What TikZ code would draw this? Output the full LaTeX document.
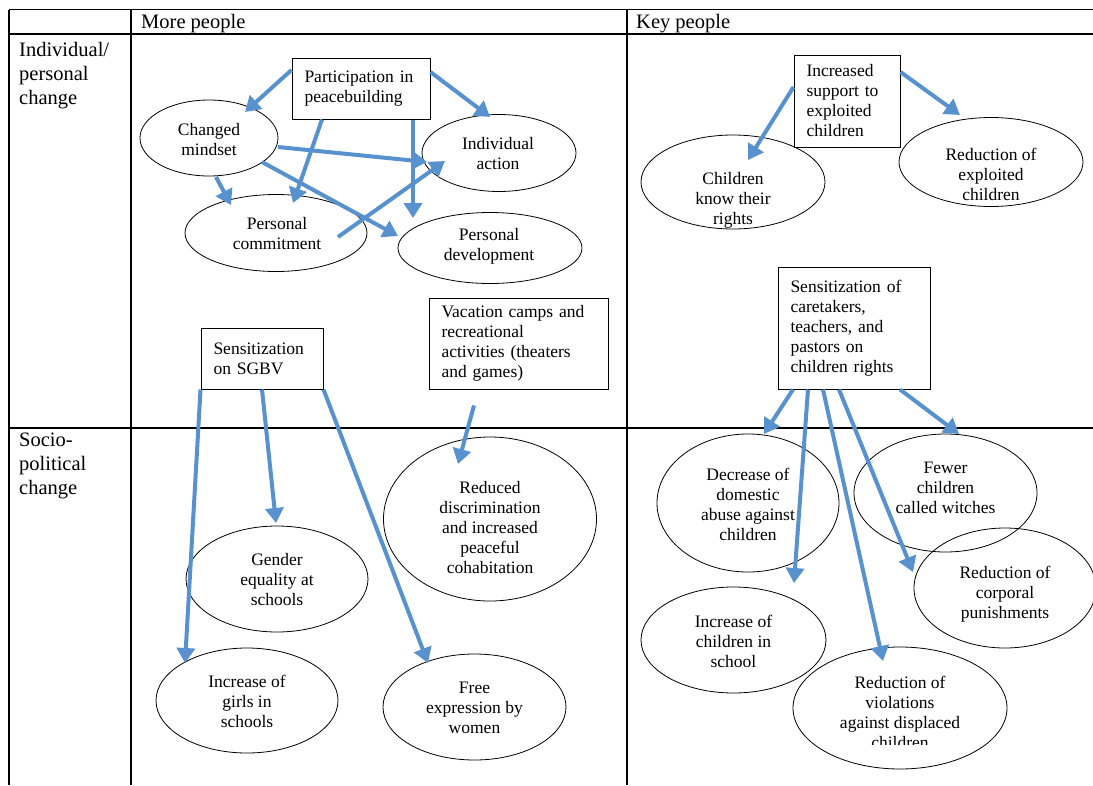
\documentclass[tikz,border=0pt]{standalone}
\usepackage{fontspec}
\setmainfont{Liberation Serif}
\usetikzlibrary{shapes.geometric,arrows.meta}
\definecolor{arrblue}{RGB}{88,146,206}
\hyphenpenalty=10000
\exhyphenpenalty=10000
\begin{document}
\begin{tikzpicture}[x=1pt,y=-1pt,
  grid/.style={line width=1.1pt,black},
  hdr/.style={font=\fontsize{20.5}{24}\selectfont, inner sep=0pt, align=left},
  pbox/.style={draw, line width=1pt, rectangle, inner xsep=12.5pt, inner ysep=0pt, align=left, font=\fontsize{17.5}{20}\selectfont},
  ell/.style={draw, line width=0.8pt, ellipse, inner sep=0pt},
  lbl/.style={align=center, inner sep=0pt, font=\fontsize{17.5}{20}\selectfont},
  arr/.style={draw=arrblue, line width=4pt, -{Triangle[length=15pt,width=18pt]}}
]
\fill[white] (0,0) rectangle (1093,785);
\useasboundingbox (0,0) rectangle (1093,785);

% table grid
\draw[grid] (9,9.5) -- (1093,9.5);
\draw[grid] (9,34) -- (1093,34);
\draw[grid] (9,428) -- (1093,428);
\draw[grid] (9,9.5) -- (9,785);
\draw[grid] (131,9.5) -- (131,785);
\draw[grid] (627,9.5) -- (627,785);

% headers
\node[hdr, anchor=base west] (h1) at (141,28) {More people};
\node[hdr, anchor=base west] (h2) at (636,28) {Key people};
\node[hdr, anchor=north west] (r1) at (19,42) {Individual/\\personal\\change};
\node[hdr, anchor=north west] (r2) at (19,433) {Socio-\\political\\change};

% boxes
\node[pbox, text width=113pt, minimum height=61pt] (pp) at (361,88.5) {Participation in\\peacebuilding};
\node[pbox, text width=81pt, minimum height=92pt] (is) at (847,101) {Increased\\support to\\exploited\\children};
\node[pbox, text width=97pt, minimum height=61pt] (sg) at (262,358.5) {Sensitization\\on SGBV};
\node[pbox, text width=154pt, minimum height=91pt] (vc) at (518.5,343.5) {Vacation camps and\\recreational\\activities (theaters\\and games)};
\node[pbox, text width=127pt, minimum height=122pt] (ct) at (854,328) {Sensitization of\\caretakers,\\teachers, and\\pastors on\\children rights};

% ellipses
\node[ell, minimum width=138pt, minimum height=76pt] (cm) at (209,138) {};
\node[lbl] (cmt) at (209,140) {Changed\\mindset};
\node[ell, minimum width=154pt, minimum height=77pt] (ia) at (499,153) {};
\node[lbl] (iat) at (498,154) {Individual\\action};
\node[ell, minimum width=182pt, minimum height=77pt] (pc) at (276,233) {};
\node[lbl] (pct) at (277,234) {Personal\\commitment};
\node[ell, minimum width=184pt, minimum height=71pt] (pd) at (490,248) {};
\node[lbl] (pdt) at (489,246) {Personal\\development};
\node[ell, minimum width=184pt, minimum height=94pt] (ck) at (733,182) {};
\node[lbl] (ckt) at (733,200) {Children\\know their\\rights};
\node[ell, minimum width=184pt, minimum height=89pt] (re) at (991,162) {};
\node[lbl] (ret) at (991,174) {Reduction of\\exploited\\children};
\node[ell, minimum width=213pt, minimum height=164pt] (rd) at (490,519) {};
\node[lbl] (rdt) at (490,528) {Reduced\\discrimination\\and increased\\peaceful\\cohabitation};
\node[ell, minimum width=182pt, minimum height=106pt] (ge) at (277,579) {};
\node[lbl] (get) at (277,580) {Gender\\equality at\\schools};
\node[ell, minimum width=182pt, minimum height=105pt] (ig) at (247,700.5) {};
\node[lbl] (igt) at (247,701) {Increase of\\girls in\\schools};
\node[ell, minimum width=183pt, minimum height=106pt] (fe) at (474.5,707) {};
\node[lbl] (fet) at (474.5,708) {Free\\expression by\\women};
\node[ell, minimum width=182pt, minimum height=138pt] (da) at (748,503) {};
\node[lbl] (dat) at (748,504) {Decrease of\\domestic\\abuse against\\children};
\node[ell, minimum width=183pt, minimum height=118pt] (fw) at (945.5,493) {};
\node[lbl] (fwt) at (945.5,488) {Fewer\\children\\called witches};
\node[ell, minimum width=182pt, minimum height=120pt] (rc) at (1005,588) {};
\node[lbl] (rct) at (1005,594) {Reduction of\\corporal\\punishments};
\node[ell, minimum width=185pt, minimum height=106pt] (ic) at (733.5,640) {};
\node[lbl] (ict) at (733.5,641) {Increase of\\children in\\school};
\node[ell, minimum width=214pt, minimum height=122pt] (rv) at (900,708) {};
\begin{scope}
  \clip (793,640) rectangle (1007,744);
  \node[lbl] (rvt) at (900,712) {Reduction of\\violations\\against displaced\\children};
\end{scope}

% arrows
\draw[arr] ([yshift=18.5pt]pp.west) -- ([xshift=36pt,yshift=26pt]cm.center);
\draw[arr] ([yshift=16.5pt]pp.east) -- ([xshift=-9pt,yshift=36pt]ia.center);
\draw[arr] ([xshift=-39pt]pp.south) -- ([xshift=17pt,yshift=30pt]pc.center);
\draw[arr] ([xshift=52pt]pp.south) -- ([xshift=-77pt,yshift=30pt]pd.center);
\draw[arr] ([xshift=69pt,yshift=-9pt]cm.center) -- ([xshift=-72pt,yshift=-9pt]ia.center);
\draw[arr] ([xshift=53pt,yshift=-24pt]cm.center) -- ([xshift=-92pt,yshift=12pt]pd.center);
\draw[arr] ([xshift=7pt,yshift=-39pt]cm.center) -- ([xshift=-45pt,yshift=28pt]pc.center);
\draw[arr] ([xshift=62pt,yshift=-4pt]pc.center) -- ([xshift=-54pt,yshift=-8pt]ia.center);
\draw[arr] ([yshift=14pt]is.west) -- ([xshift=15pt,yshift=22pt]ck.center);
\draw[arr] ([yshift=29pt]is.east) -- ([xshift=-31pt,yshift=47pt]re.center);
\draw[arr] (sg.south west) -- ([xshift=-62pt,yshift=37.5pt]ig.center);
\draw[arr] (sg.south) -- ([xshift=-1pt,yshift=56pt]ge.center);
\draw[arr] (sg.south east) -- ([xshift=-46.5pt,yshift=44pt]fe.center);
\draw[arr] ([xshift=-44.5pt,yshift=-16pt]vc.south) -- ([xshift=-32pt,yshift=55pt]rd.center);
\draw[arr] ([xshift=-61pt]ct.south) -- ([xshift=16pt,yshift=69pt]da.center);
\draw[arr] ([xshift=-46pt]ct.south) -- ([xshift=60.5pt,yshift=57pt]ic.center);
\draw[arr] ([xshift=-31pt]ct.south) -- ([xshift=-17pt,yshift=47pt]rv.center);
\draw[arr] ([xshift=-15pt]ct.south) -- ([xshift=-92pt,yshift=16pt]rc.center);
\draw[arr] ([xshift=46pt]ct.south) -- ([xshift=13.5pt,yshift=59pt]fw.center);
\end{tikzpicture}
\end{document}
